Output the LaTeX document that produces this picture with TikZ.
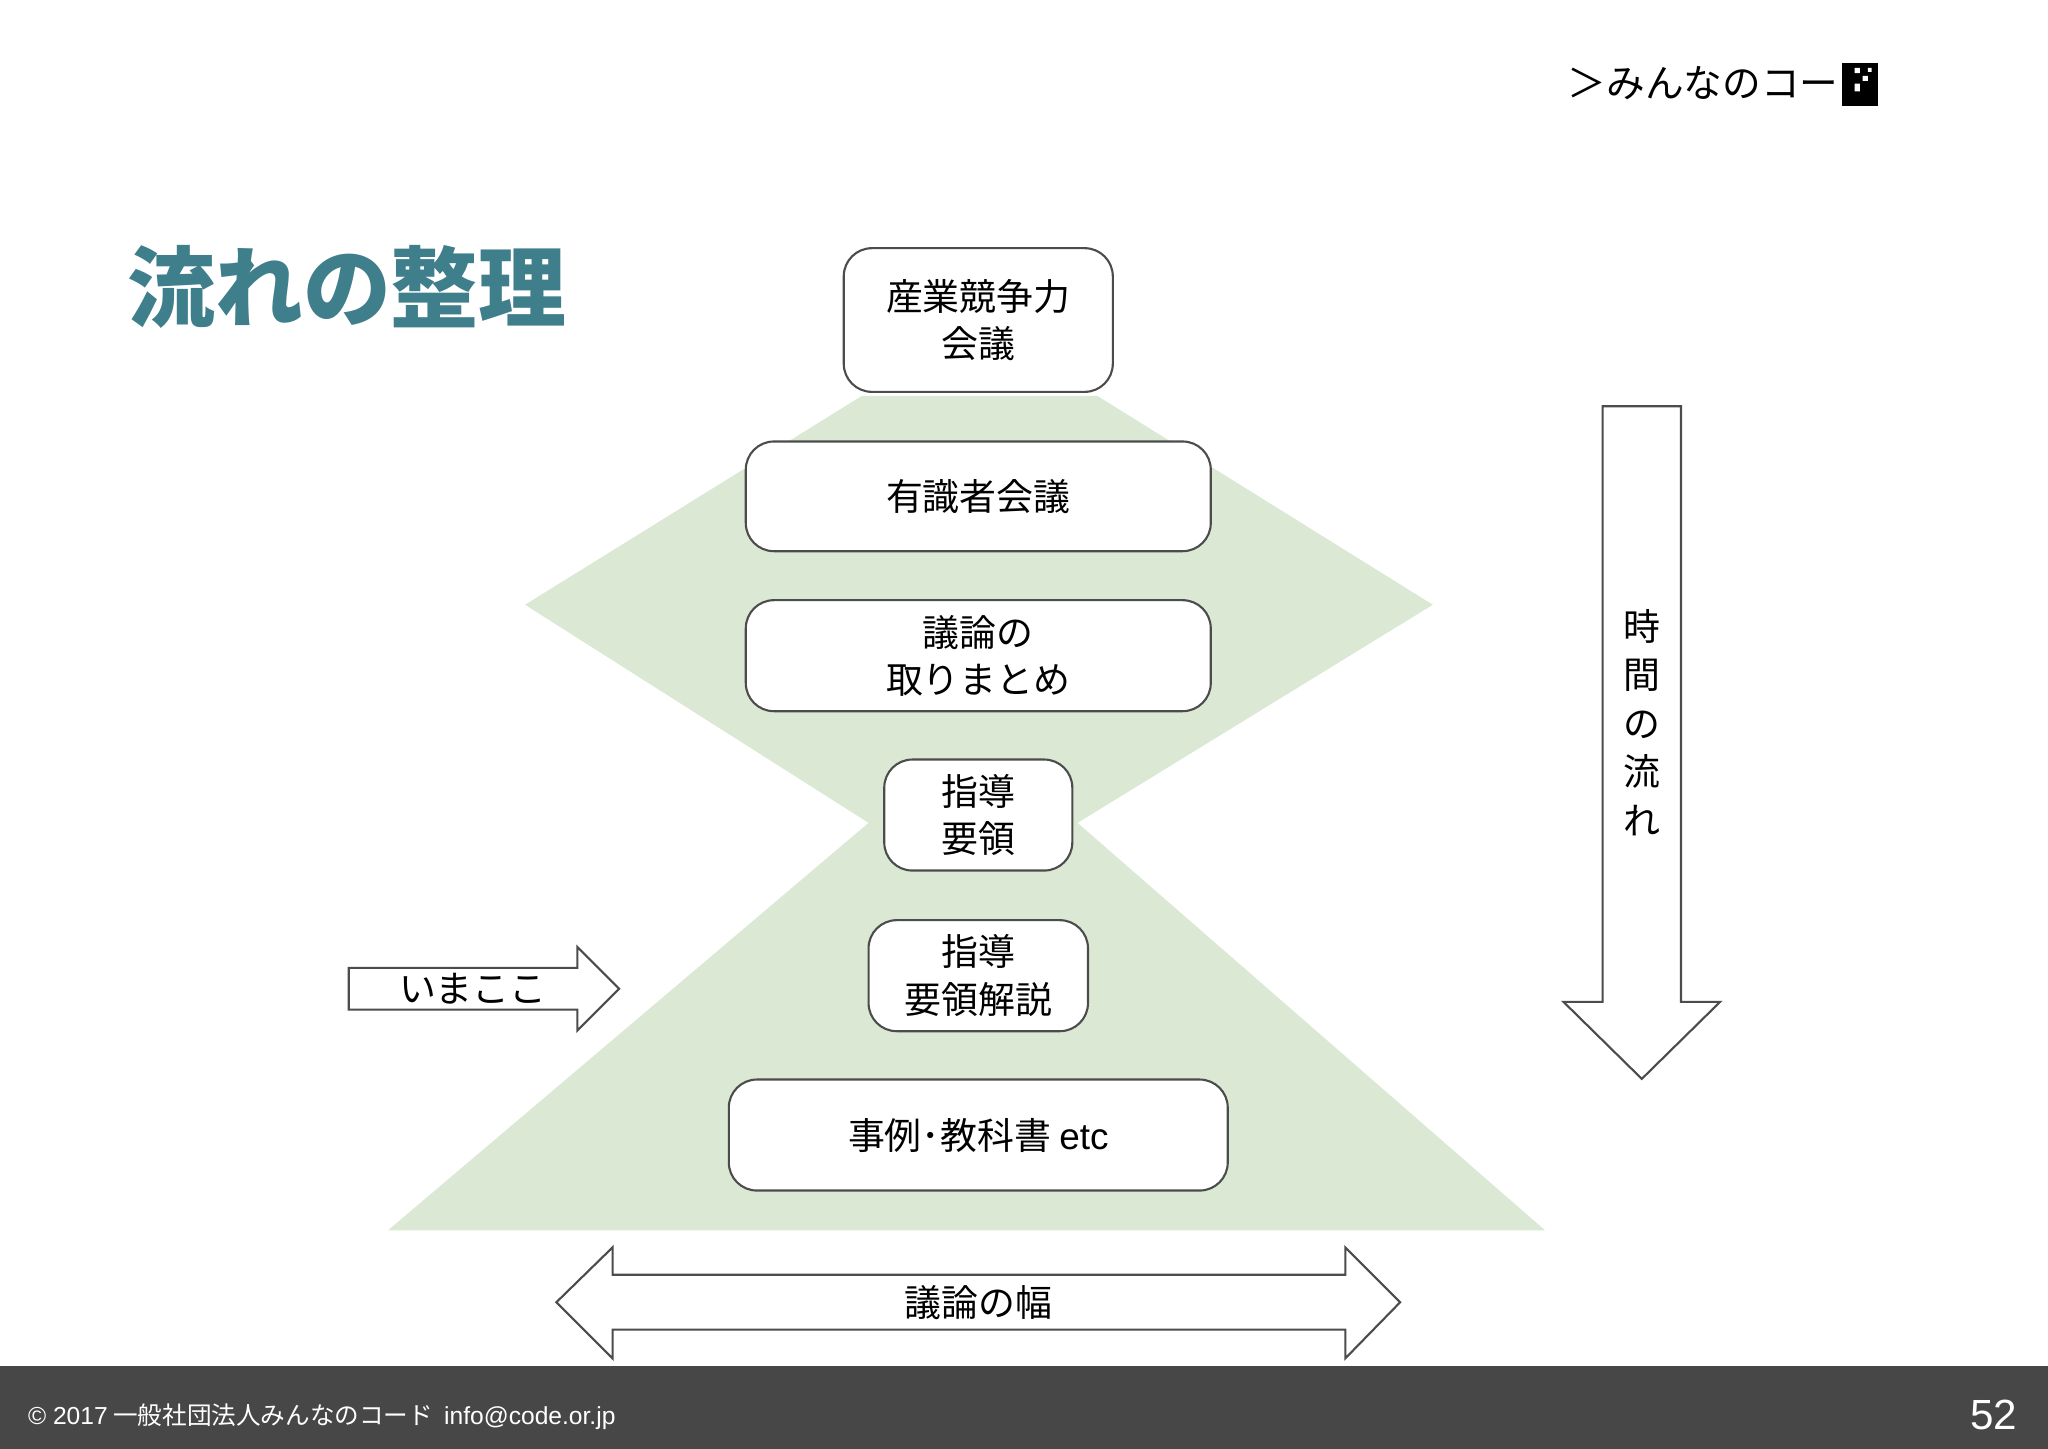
\documentclass[tikz,border=0pt]{standalone}
\usepackage{fontspec}
\setmainfont{Noto Sans CJK JP}
\newfontfamily\latinf{Liberation Sans}
\definecolor{gr}{RGB}{219,233,212}
\definecolor{tl}{RGB}{63,126,139}
\begin{document}
\begin{tikzpicture}[x=0.013061cm,y=-0.013061cm,
  fbox/.style={draw=black!70,line width=0.6pt,rounded corners=8pt,fill=white,align=center,font=\fontsize{10.5}{13.5}\selectfont,inner sep=0pt},
  outarrow/.style={draw=black!70,line width=0.6pt,fill=white}]
\useasboundingbox (0,0) rectangle (1568,1109);
\fill[white] (0,0) rectangle (1568,1109);
\fill[gr] (660,303)--(840,303)--(1097,463)--(825,630)--(1183,942)--(297,942)--(665,630)--(402,463)--cycle;
\node[fbox,minimum width={206*0.013061cm},minimum height={110*0.013061cm}] (b1) at (749,245) {産業競争力\\会議};
\node[fbox,minimum width={356*0.013061cm},minimum height={84*0.013061cm}] (b2) at (749,380) {有識者会議};
\node[fbox,minimum width={356*0.013061cm},minimum height={85*0.013061cm}] (b3) at (749,502) {議論の\\取りまとめ};
\node[fbox,minimum width={144*0.013061cm},minimum height={85*0.013061cm}] (b4) at (749,624) {指導\\要領};
\node[fbox,minimum width={168*0.013061cm},minimum height={85*0.013061cm}] (b5) at (749,747) {指導\\要領解説};
\node[fbox,minimum width={382*0.013061cm},minimum height={85*0.013061cm}] (b6) at (749,869) {事例･教科書 {\latinf etc}};
\draw[outarrow] (267,741)--(442,741)--(442,725)--(474,757)--(442,789)--(442,773)--(267,773)--cycle;
\node[font=\fontsize{10.5}{12}\selectfont] (now) at (362,757) {いまここ};
\draw[outarrow] (1227,311)--(1287,311)--(1287,767)--(1317,767)--(1257,826)--(1197,767)--(1227,767)--cycle;
\node[align=center,font=\fontsize{10.5}{13.8}\selectfont] (time) at (1257,553) {時\\間\\の\\流\\れ};
\draw[outarrow] (469,976)--(1030,976)--(1030,955)--(1072,997)--(1030,1040)--(1030,1018)--(469,1018)--(469,1040)--(426,997)--(469,955)--cycle;
\node[font=\fontsize{10.5}{12}\selectfont] (wid) at (749,997) {議論の幅};
\node[anchor=west,font=\fontsize{25}{28}\bfseries\selectfont,text=tl,inner sep=0pt] (title) at (97,220) {流れの整理};
\node[anchor=east,font=\fontsize{11}{14}\selectfont,inner sep=0pt] (logo) at (1408,64) {＞みんなのコー};
\fill[black] (1410,48) rectangle (1438,81);
\fill[white] (1420,52) rectangle (1424,56) (1426,58) rectangle (1430,62) (1420,64) rectangle (1424,70) (1430,52) rectangle (1433,55);
\fill[black!72] (0,1046) rectangle (1568,1109);
\node[anchor=west,text=white,font=\fontsize{7}{8}\selectfont] (foot) at (12,1085) {{\latinf © 2017} 一般社団法人みんなのコード\ \ {\latinf info@code.or.jp}};
\node[anchor=east,text=white,font=\latinf\fontsize{12}{14}\selectfont] (pg) at (1554,1083) {52};
\end{tikzpicture}
\end{document}
